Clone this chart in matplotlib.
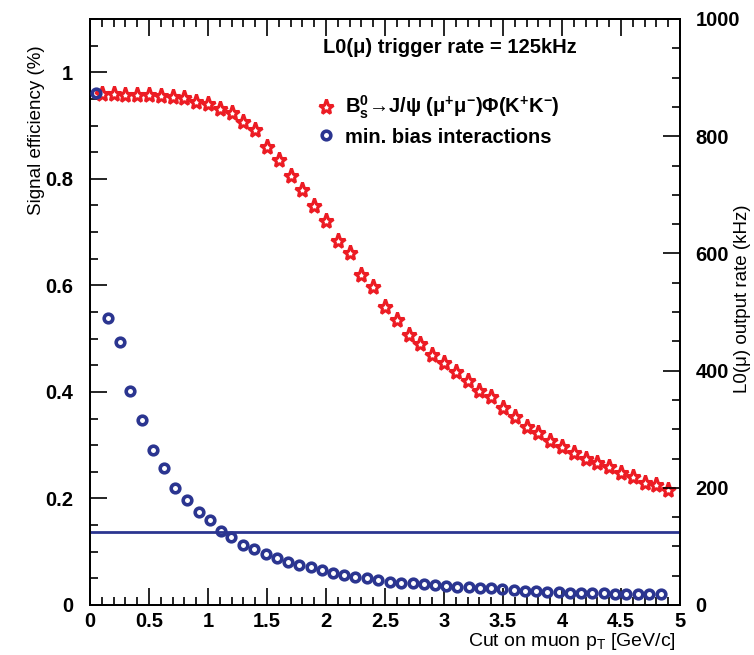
import numpy as np
import matplotlib
matplotlib.use("Agg")
import matplotlib.pyplot as plt
from matplotlib.ticker import MultipleLocator
from matplotlib.lines import Line2D

plt.rcParams['font.family'] = ['Liberation Sans', 'DejaVu Sans']
plt.rcParams['mathtext.fontset'] = 'custom'
plt.rcParams['mathtext.rm'] = 'Liberation Sans'
plt.rcParams['mathtext.bf'] = 'Liberation Sans:bold'
plt.rcParams['mathtext.it'] = 'Liberation Sans:italic'

# signal efficiency vs muon pT cut (B_s -> J/psi phi)
sig_pt = [0.1, 0.2, 0.3, 0.4, 0.5, 0.6, 0.7, 0.8, 0.9, 1.0,
          1.1, 1.2, 1.3, 1.4, 1.5, 1.6, 1.7, 1.8, 1.9, 2.0,
          2.1, 2.2, 2.3, 2.4, 2.5, 2.6, 2.7, 2.8, 2.9, 3.0,
          3.1, 3.2, 3.3, 3.4, 3.5, 3.6, 3.7, 3.8, 3.9, 4.0,
          4.1, 4.2, 4.3, 4.4, 4.5, 4.6, 4.7, 4.8, 4.9]
sig_eff = [0.960, 0.959, 0.958, 0.958, 0.957, 0.956, 0.954, 0.951, 0.944, 0.941,
           0.931, 0.924, 0.906, 0.891, 0.859, 0.836, 0.806, 0.779, 0.749, 0.720,
           0.684, 0.660, 0.619, 0.596, 0.559, 0.535, 0.507, 0.490, 0.469, 0.455,
           0.437, 0.421, 0.401, 0.390, 0.369, 0.353, 0.335, 0.322, 0.307, 0.297,
           0.285, 0.275, 0.266, 0.259, 0.248, 0.241, 0.229, 0.225, 0.216]

# L0(mu) output rate on min. bias vs muon pT cut [kHz]
mb_pt = [0.05, 0.154, 0.252, 0.343, 0.442, 0.532, 0.627, 0.724, 0.823, 0.921,
         1.015, 1.106, 1.197, 1.293, 1.392, 1.491, 1.585, 1.678, 1.774, 1.873,
         1.966, 2.059, 2.155, 2.249, 2.348, 2.444, 2.540, 2.636, 2.735, 2.828,
         2.925, 3.021, 3.114, 3.210, 3.304, 3.400, 3.494, 3.592, 3.683, 3.782,
         3.875, 3.974, 4.067, 4.164, 4.257, 4.356, 4.449, 4.546, 4.644, 4.741,
         4.837]
mb_rate = [874, 490, 449, 365, 316, 265, 234, 200, 180, 158,
           145, 127, 116, 102, 96, 87, 81, 73, 68, 64,
           59, 54, 51, 48, 46, 43, 40, 38, 37, 36,
           34, 33, 31, 30, 29, 28.5, 27, 25.6, 24.4, 23.9,
           22.7, 21.7, 21, 20.5, 20, 20, 19.3, 18.8, 18.8, 18.3,
           18.3]

trigger_rate = 125  # kHz

red = '#ec1c24'
blue = '#2b3590'

fig = plt.figure(figsize=(7.54, 6.55), dpi=100)
ax = fig.add_axes([90 / 754, 50 / 655, 590 / 754, 586 / 655])
ax2 = ax.twinx()

ax.plot(sig_pt, sig_eff, ls='none', marker='*', ms=11, mfc='none',
        mec=red, mew=2.2, zorder=3)
ax2.plot(mb_pt, mb_rate, ls='none', marker='o', ms=6.2, mfc='none',
         mec=blue, mew=2.6, zorder=3)
ax2.axhline(trigger_rate, color=blue, lw=2)

ax.set_xlim(0, 5)
ax.set_ylim(0, 1.1)
ax2.set_ylim(0, 1000)

ax.xaxis.set_major_locator(MultipleLocator(0.5))
ax.xaxis.set_minor_locator(MultipleLocator(0.1))
ax.yaxis.set_major_locator(MultipleLocator(0.2))
ax.yaxis.set_minor_locator(MultipleLocator(0.05))
ax2.yaxis.set_major_locator(MultipleLocator(200))
ax2.yaxis.set_minor_locator(MultipleLocator(50))

tick_fs = 14.5
ax.tick_params(which='both', direction='in', top=True, right=False,
               labelsize=tick_fs, width=1.2)
ax.tick_params(axis='y', pad=12)
ax.tick_params(axis='x', pad=5)
ax.tick_params(which='major', length=12)
ax.tick_params(which='minor', length=6)
ax2.tick_params(which='both', direction='in', labelsize=tick_fs, width=1.2, pad=11)
ax2.tick_params(which='major', length=12)
ax2.tick_params(which='minor', length=6)

for a in (ax, ax2):
    for lab in a.get_xticklabels() + a.get_yticklabels():
        lab.set_fontweight('bold')
    for sp in a.spines.values():
        sp.set_linewidth(1.3)

ax.set_xticks([0, 0.5, 1, 1.5, 2, 2.5, 3, 3.5, 4, 4.5, 5])
ax.set_xticklabels(['0', '0.5', '1', '1.5', '2', '2.5', '3', '3.5', '4', '4.5', '5'],
                   fontweight='bold')
ax.set_yticks([0, 0.2, 0.4, 0.6, 0.8, 1.0])
ax.set_yticklabels(['0', '0.2', '0.4', '0.6', '0.8', '1'], fontweight='bold')

ax.set_xlabel(r'Cut on muon p$_{\mathrm{T}}$ [GeV/c]', fontsize=14, loc='right')
ax.xaxis.set_label_coords(0.993, -0.045)
ax.set_ylabel('Signal efficiency (%)', fontsize=13.5, loc='top')
ax.yaxis.set_label_coords(-0.076, 0.955)
ax2.set_ylabel('L0(μ) output rate (kHz)', fontsize=13.5, loc='top')
ax2.yaxis.set_label_coords(1.092, 0.683)

ax.text(0.61, 0.952, 'L0(μ) trigger rate = 125kHz', transform=ax.transAxes,
        ha='center', va='center', fontsize=14.5, fontweight='bold')

handles = [
    Line2D([], [], ls='none', marker='*', ms=11, mfc='none', mec=red, mew=2.2),
    Line2D([], [], ls='none', marker='o', ms=6.2, mfc='none', mec=blue, mew=2.6),
]
labels = [
    r'B$^{\mathbf{0}}_{\mathbf{s}}$→J/ψ (μ$^{\mathbf{+}}$μ$^{\mathbf{-}}$)Φ(K$^{\mathbf{+}}$K$^{\mathbf{-}}$)',
    'min. bias interactions',
]
leg = ax2.legend(handles, labels, loc='upper left',
                 bbox_to_anchor=(306 / 754, 1 - 84 / 655),
                 bbox_transform=fig.transFigure, frameon=False,
                 handlelength=1.0, handletextpad=0.45, labelspacing=0.3,
                 borderpad=0, prop={'size': 14.5, 'weight': 'bold'})

fig.savefig('out.png', dpi=100)
